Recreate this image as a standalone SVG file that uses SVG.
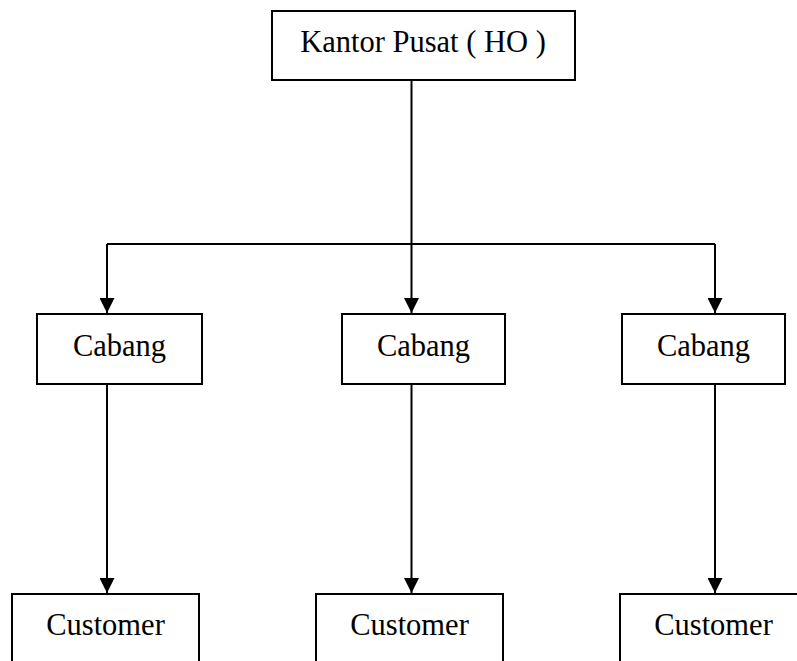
<svg xmlns="http://www.w3.org/2000/svg" width="797" height="661" viewBox="0 0 797 661">
<style>
.box{fill:#fff;stroke:#000;stroke-width:2}
.lbl{font-family:"Liberation Serif","Times New Roman",serif;font-size:30.5px;fill:#000;text-anchor:middle}
.conn{fill:none;stroke:#000;stroke-width:2}
</style>
<defs>
<marker id="arr" markerUnits="userSpaceOnUse" markerWidth="15" markerHeight="15" refX="15" refY="7.5" orient="auto">
<path d="M0,0 L15,7.5 L0,15 z" fill="#000"/>
</marker>
</defs>
<rect width="797" height="661" fill="#fff"/>
<g id="connectors">
<path class="conn" d="M411.5,80 V244"/>
<path class="conn" d="M107,244 H715"/>
<path class="conn" d="M107,244 V313" marker-end="url(#arr)"/>
<path class="conn" d="M411.5,244 V313" marker-end="url(#arr)"/>
<path class="conn" d="M715,244 V313" marker-end="url(#arr)"/>
<path class="conn" d="M107,384 V593" marker-end="url(#arr)"/>
<path class="conn" d="M411.5,384 V593" marker-end="url(#arr)"/>
<path class="conn" d="M715,384 V593" marker-end="url(#arr)"/>
</g>
<g id="ho">
<rect class="box" x="272" y="11" width="303" height="69"/>
<text class="lbl" x="423" y="52">Kantor Pusat ( HO )</text>
</g>
<g id="cabang1">
<rect class="box" x="37" y="314" width="165" height="70"/>
<text class="lbl" x="119.5" y="356">Cabang</text>
</g>
<g id="cabang2">
<rect class="box" x="342" y="314" width="163" height="70"/>
<text class="lbl" x="423.5" y="356">Cabang</text>
</g>
<g id="cabang3">
<rect class="box" x="622" y="314" width="163" height="70"/>
<text class="lbl" x="703.5" y="356">Cabang</text>
</g>
<g id="customer1">
<rect class="box" x="12" y="594" width="187" height="80"/>
<text class="lbl" x="105.5" y="635">Customer</text>
</g>
<g id="customer2">
<rect class="box" x="316" y="594" width="187" height="80"/>
<text class="lbl" x="409.5" y="635">Customer</text>
</g>
<g id="customer3">
<rect class="box" x="620" y="594" width="187" height="80"/>
<text class="lbl" x="713.5" y="635">Customer</text>
</g>
</svg>
